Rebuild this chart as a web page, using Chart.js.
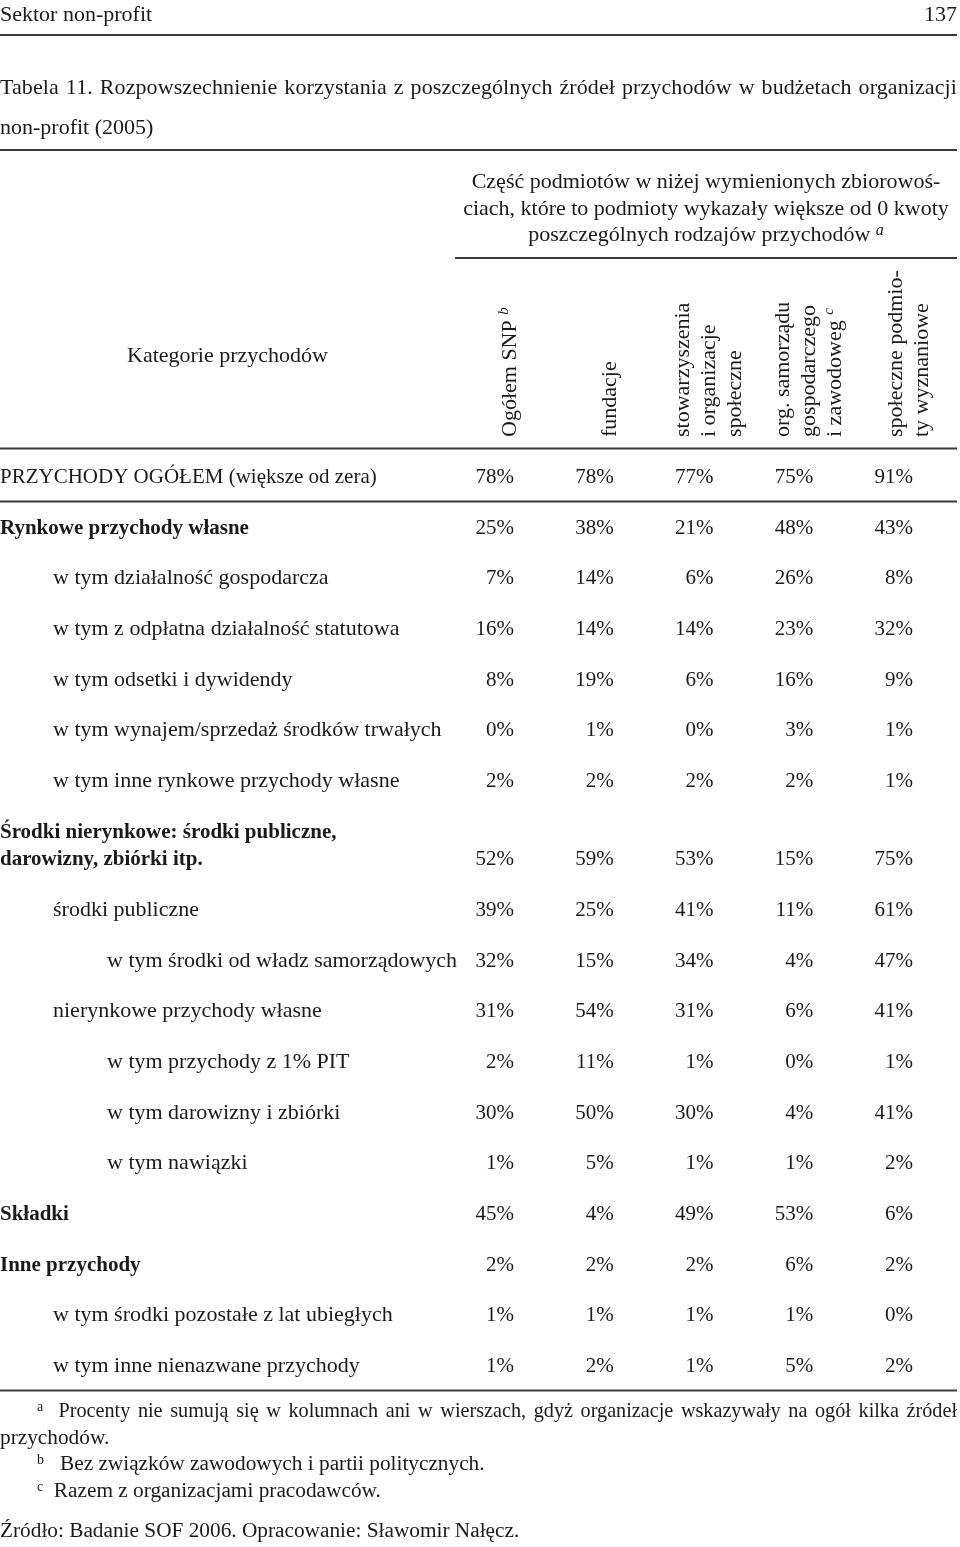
<!DOCTYPE html>
<html lang="pl">
<head>
<meta charset="utf-8">
<script src="https://cdn.jsdelivr.net/npm/chart.js@4/dist/chart.umd.min.js"></script>
<style>
  body { margin: 0; background: #fff; }
  #page { position: relative; width: 960px; height: 1547px; font-family: "Liberation Serif", serif; color: #1a1a1a; font-size: 22px; }
  #page div.t { position: absolute; white-space: nowrap; line-height: 24px; }
  .rule { position: absolute; height: 2px; background: #3a3a3a; }
  canvas { position: absolute; left: 0; top: 0; }
  .fn { font-size: 21.3px; }
  sup { font-size: 14px; vertical-align: 6px; line-height: 0; }
</style>
</head>
<body>
<div id="page">
  <canvas id="tabela" width="960" height="1547"></canvas>
  <div class="t" style="left:0;top:2px;">Sektor non-profit</div>
  <div class="t" style="right:3px;top:2px;">137</div>
  <div class="rule" style="left:0;width:957px;top:34px;"></div>
  <div class="t" style="left:0;top:75px;width:957px;text-align:justify;text-align-last:justify;letter-spacing:0.1px;">Tabela 11. Rozpowszechnienie korzystania z poszczególnych źródeł przychodów w budżetach organizacji</div>
  <div class="t" style="left:0;top:115px;">non-profit (2005)</div>
  <div class="rule" style="left:0;width:957px;top:149px;"></div>
  <div class="t" style="left:455px;top:168px;width:502px;text-align:center;line-height:26.5px;">Część podmiotów w niżej wymienionych zbiorowoś-<br>ciach, które to podmioty wykazały większe od 0 kwoty<br>poszczególnych rodzajów przychodów <sup style="font-size:16px"><i>a</i></sup></div>
  <div class="rule" style="left:455px;width:502px;top:257px;"></div>
  <div class="t" style="left:0;top:343px;width:455px;text-align:center;">Kategorie przychodów</div>
  <div class="t fn" style="left:37px;top:1398px;width:920px;font-size:20.2px;text-align:justify;text-align-last:justify;"><sup>a</sup>&nbsp; Procenty nie sumują się w kolumnach ani w wierszach, gdyż organizacje wskazywały na ogół kilka źródeł</div>
  <div class="t fn" style="left:0;top:1425px;">przychodów.</div>
  <div class="t fn" style="left:37px;top:1451px;"><sup>b</sup>&nbsp;&nbsp; Bez związków zawodowych i partii politycznych.</div>
  <div class="t fn" style="left:37px;top:1478px;"><sup>c</sup>&nbsp; Razem z organizacjami pracodawców.</div>
  <div class="t fn" style="left:0;top:1518px;">Źródło: Badanie SOF 2006. Opracowanie: Sławomir Nałęcz.</div>
</div>
<script>
// Dane tabeli
const kategorie = [
  "PRZYCHODY OGÓŁEM (większe od zera)",
  "Rynkowe przychody własne",
  "w tym działalność gospodarcza",
  "w tym z odpłatna działalność statutowa",
  "w tym odsetki i dywidendy",
  "w tym wynajem/sprzedaż środków trwałych",
  "w tym inne rynkowe przychody własne",
  ["Środki nierynkowe: środki publiczne,", "darowizny, zbiórki itp."],
  "środki publiczne",
  "w tym środki od władz samorządowych",
  "nierynkowe przychody własne",
  "w tym przychody z 1% PIT",
  "w tym darowizny i zbiórki",
  "w tym nawiązki",
  "Składki",
  "Inne przychody",
  "w tym środki pozostałe z lat ubiegłych",
  "w tym inne nienazwane przychody"
];
// poziom zagnieżdżenia wiersza (0 = główny)
const poziom = [0, 0, 1, 1, 1, 1, 1, 0, 1, 2, 1, 2, 2, 2, 0, 0, 1, 1];
const pogrubione = [false, true, false, false, false, false, false, true, false, false, false, false, false, false, true, true, false, false];

const kolumny = [
  ["Ogółem SNP"],
  ["fundacje"],
  ["stowarzyszenia", "i organizacje", "społeczne"],
  ["org. samorządu", "gospodarczego", "i zawodoweg"],
  ["społeczne podmio-", "ty wyznaniowe"]
];
const przypisyKolumn = ["b", "", "", "c", ""];

const ogolem    = [78, 25, 7, 16, 8, 0, 2, 52, 39, 32, 31, 2, 30, 1, 45, 2, 1, 1];
const fundacje  = [78, 38, 14, 14, 19, 1, 2, 59, 25, 15, 54, 11, 50, 5, 4, 2, 1, 2];
const stowarzyszenia = [77, 21, 6, 14, 6, 0, 2, 53, 41, 34, 31, 1, 30, 1, 49, 2, 1, 1];
const samorzad  = [75, 48, 26, 23, 16, 3, 2, 15, 11, 4, 6, 0, 4, 1, 53, 6, 1, 5];
const wyznaniowe = [91, 43, 8, 32, 9, 1, 1, 75, 61, 47, 41, 1, 41, 2, 6, 2, 0, 2];
const serie = [ogolem, fundacje, stowarzyszenia, samorzad, wyznaniowe];

// pozycja wiersza: wiersz dwulinijkowy zajmuje dodatkowe miejsce
function pozycjaWiersza(i) {
  let extra = 0;
  for (let k = 0; k < i; k++) if (Array.isArray(kategorie[k + 1])) extra += 0.545;
  return i + extra;
}

const FONT = '"Liberation Serif", serif';
const KOLOR = '#1a1a1a';
const krokKol = 99.75, kol0 = 496;      // środek pierwszej kolumny
const krokWiersz = 50.67, wiersz0 = 476; // środek pierwszego wiersza
const H = 1547, W = 960;

const rysujTabele = {
  id: 'rysujTabele',
  afterDatasetsDraw(chart) {
    const ctx = chart.ctx;
    const xs = chart.scales.x, ys = chart.scales.y;
    ctx.save();
    ctx.fillStyle = KOLOR;

    // wartości
    chart.data.datasets.forEach((ds, di) => {
      const meta = chart.getDatasetMeta(di);
      ctx.font = '21px ' + FONT;
      ctx.textAlign = 'right';
      ctx.textBaseline = 'alphabetic';
      meta.data.forEach((el, i) => {
        ctx.fillText(ds.data[i].v + '%', el.x + 18, el.y + 7);
      });
    });

    // etykiety wierszy
    ctx.textAlign = 'left';
    kategorie.forEach((lab, i) => {
      const y = ys.getPixelForValue(pozycjaWiersza(i));
      const x = [0, 53, 107][poziom[i]];
      if (pogrubione[i]) ctx.font = 'bold 21px ' + FONT;
      else ctx.font = (i === 0 ? '21px ' : '22px ') + FONT;
      if (Array.isArray(lab)) {
        ctx.fillText(lab[0], x, y + 7 - 27);
        ctx.fillText(lab[1], x, y + 7);
      } else {
        ctx.fillText(lab, x, y + 7);
      }
    });

    // nagłówki kolumn (pionowe)
    kolumny.forEach((linie, c) => {
      const cx = xs.getPixelForValue(c) + 14;
      ctx.save();
      ctx.translate(cx, 437);
      ctx.rotate(-Math.PI / 2);
      ctx.textAlign = 'left';
      ctx.textBaseline = 'middle';
      linie.forEach((t, j) => {
        const off = (j - (linie.length - 1) / 2) * 26;
        ctx.font = '22px ' + FONT;
        ctx.fillText(t, 0, off);
        if (j === linie.length - 1 && przypisyKolumn[c]) {
          const w = ctx.measureText(t + ' ').width;
          ctx.font = 'italic 15px ' + FONT;
          ctx.fillText(przypisyKolumn[c], w, off - 6);
        }
      });
      ctx.restore();
    });

    // linie poziome
    ctx.strokeStyle = '#3a3a3a';
    ctx.lineWidth = 2;
    [-0.55, 0.5, pozycjaWiersza(kategorie.length - 1) + 0.5].forEach(v => {
      const y = Math.round(ys.getPixelForValue(v)) + 0.5;
      ctx.beginPath();
      ctx.moveTo(0, y);
      ctx.lineTo(957, y);
      ctx.stroke();
    });
    ctx.restore();
  }
};

const datasets = serie.map((s, c) => ({
  label: kolumny[c].join(' '),
  data: s.map((v, i) => ({ x: c, y: pozycjaWiersza(i), v: v })),
  pointRadius: 0,
  showLine: false
}));

new Chart(document.getElementById('tabela'), {
  type: 'scatter',
  data: { datasets: datasets },
  options: {
    responsive: false,
    animation: false,
    devicePixelRatio: 1,
    layout: { padding: 0 },
    plugins: { legend: { display: false }, tooltip: { enabled: false } },
    scales: {
      x: { type: 'linear', display: false, min: -kol0 / krokKol, max: (W - kol0) / krokKol },
      y: { type: 'linear', display: false, reverse: true, min: -wiersz0 / krokWiersz, max: (H - wiersz0) / krokWiersz }
    }
  },
  plugins: [rysujTabele]
});
</script>
</body>
</html>
